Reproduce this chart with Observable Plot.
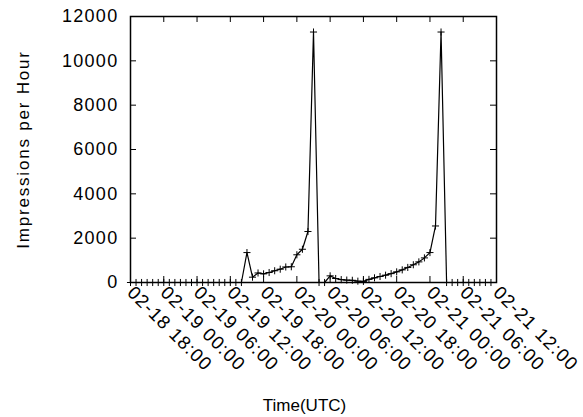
<!DOCTYPE html>
<html><head><meta charset="utf-8">
<script src="https://cdn.jsdelivr.net/npm/d3@7"></script>
<script src="https://cdn.jsdelivr.net/npm/@observablehq/plot@0.6"></script>
<style>
body{margin:0;background:#fff}
svg{font-family:"Liberation Sans",Arial,sans-serif}
g[aria-label="x-axis tick label"] text{letter-spacing:1.1px}
g[aria-label="y-axis tick label"] text{letter-spacing:1.3px}
g.ylab text{letter-spacing:1.8px}
</style></head><body><div id="chart"></div>
<script>
// ---- data ----
const startHour = "2015-02-18T18:00:00Z"; // first hourly sample
const impressions = [
  0,0,0,0,0,0,0,0,0,0,0,0,0,0,0,0,0,0,0,0,0,
  1350,240,430,390,450,530,600,700,710,1250,1500,2300,11300,
  0,0,300,180,130,110,100,60,50,140,210,270,330,400,480,570,680,800,930,1110,1350,2550,11300,
  0,0,0,0,0,0,0,0,0
];
const xTickLabels = ["02-18 18:00","02-19 00:00","02-19 06:00","02-19 12:00","02-19 18:00","02-20 00:00",
                     "02-20 06:00","02-20 12:00","02-20 18:00","02-21 00:00","02-21 06:00","02-21 12:00"];
const yTicks = [0,2000,4000,6000,8000,10000,12000];
const xLabel = "Time(UTC)";
const yLabel = "Impressions per Hour";

// ---- build ----
const parseTick = d3.utcParse("%Y-%m-%d %H:%M");
const xTicks = xTickLabels.map(s => parseTick("2015-" + s));
const t0 = new Date(startHour);
const data = impressions.map((v, i) => ({time: d3.utcHour.offset(t0, i), value: v}));

const W = 583, H = 417, mL = 130, mR = 87, mT = 16, mB = 135;
const pw = W - mL - mR, ph = H - mT - mB;
const tickLen = 6;
const plus = {draw(ctx, size) { const r = Math.sqrt(size) / 2; ctx.moveTo(-r, 0); ctx.lineTo(r, 0); ctx.moveTo(0, -r); ctx.lineTo(0, r); }};

const chart = Plot.plot({
  width: W, height: H,
  marginLeft: mL, marginRight: mR, marginTop: mT, marginBottom: mB,
  style: {fontFamily: '"Liberation Sans", Arial, sans-serif', fontSize: "17px", color: "black", background: "white"},
  x: {type: "utc", domain: [xTicks[0], xTicks[xTicks.length - 1]], label: null},
  y: {domain: [0, 12000], label: null},
  marks: [
    Plot.tickX(xTicks, {x: d => d, insetTop: ph - tickLen, stroke: "black", strokeWidth: 1}),
    Plot.tickX(xTicks, {x: d => d, insetBottom: ph - tickLen, stroke: "black", strokeWidth: 1}),
    Plot.tickY(yTicks, {y: d => d, insetRight: pw - tickLen, stroke: "black", strokeWidth: 1}),
    Plot.tickY(yTicks, {y: d => d, insetLeft: pw - tickLen, stroke: "black", strokeWidth: 1}),
    Plot.axisX({ticks: xTicks, tickFormat: d3.utcFormat("%m-%d %H:%M"), tickRotate: 45, tickSize: 0, tickPadding: 7, fontSize: 18.5, label: null}),
    Plot.axisY({ticks: yTicks, tickFormat: d3.format("d"), tickSize: 0, tickPadding: 12, fontSize: 18, label: null}),
    Plot.line(data, {x: "time", y: "value", stroke: "black", strokeWidth: 1.2}),
    Plot.dot(data, {x: "time", y: "value", symbol: plus, r: 4, stroke: "black", strokeWidth: 1, fill: "none"}),
    Plot.frame({stroke: "black", strokeWidth: 1.5}),
    Plot.text([xLabel], {text: d => d, frameAnchor: "bottom", lineAnchor: "middle", dy: 123, dx: -9, fontSize: 17}),
    Plot.text([yLabel], {text: d => d, frameAnchor: "left", rotate: -90, lineAnchor: "middle", dx: -107, fontSize: 17, textAnchor: "middle", className: "ylab"})
  ]
});
document.getElementById("chart").appendChild(chart);
</script></body></html>
